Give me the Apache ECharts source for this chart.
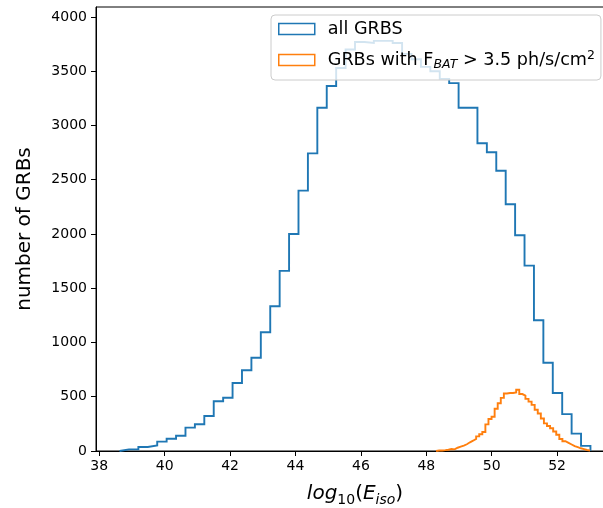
<!DOCTYPE html>
<html>
<head>
<meta charset="utf-8">
<script src="https://cdn.jsdelivr.net/npm/echarts@6/dist/echarts.min.js"></script>
<style>
html,body{margin:0;padding:0;background:#fff;}
#chart{width:603px;height:508px;}
</style>
</head>
<body>
<div id="chart"></div>
<script>
// ---- data ----
const xTicks = [38, 40, 42, 44, 46, 48, 50, 52];
const yTicks = [0, 500, 1000, 1500, 2000, 2500, 3000, 3500, 4000];

const seriesNames = ['all GRBS', 'GRBs with F_BAT > 3.5 ph/s/cm^2'];

// all GRBs: 50 bins between these edges
const allRange = [38.62, 53.02];
const allCounts = [15, 15, 37, 52, 86, 113, 141, 215, 246, 323,
                   458, 491, 627, 744, 860, 1094, 1334, 1660, 2000, 2400,
                   2743, 3164, 3364, 3530, 3700, 3770, 3760, 3780, 3780, 3760,
                   3660, 3610, 3540, 3500, 3430, 3390, 3164, 3164, 2836, 2753,
                   2583, 2274, 1988, 1708, 1205, 814, 535, 340, 160, 47];

// bright GRBs: 50 bins between these edges
const brightRange = [48.30, 53.01];
const brightCounts = [5, 5, 8, 12, 18, 15, 30, 40, 50, 62,
                      80, 95, 112, 135, 155, 175, 245, 295, 315, 390,
                      440, 490, 530, 535, 535, 540, 565, 525, 510, 480,
                      455, 425, 380, 345, 300, 255, 230, 210, 180, 150,
                      110, 90, 75, 60, 45, 35, 25, 18, 9, 5];

// ---- build step outlines (matplotlib histtype='step') ----
function stepOutline(counts, range) {
  const lo = range[0], hi = range[1];
  const w = (hi - lo) / counts.length;
  const pts = [[lo, 0]];
  counts.forEach((c, i) => {
    pts.push([lo + i * w, c]);
    pts.push([lo + (i + 1) * w, c]);
  });
  pts.push([hi, 0]);
  return pts;
}

const FONT = 'DejaVu Sans';
const BLUE = '#1f77b4';
const ORANGE = '#ff7f0e';

const chart = echarts.init(document.getElementById('chart'), null, {renderer: 'canvas'});

const option = {
  animation: false,
  backgroundColor: '#ffffff',
  grid: {
    left: 96, top: 7, right: -11, bottom: 57,
    containLabel: false,
    outerBoundsMode: 'none',
    show: true, borderColor: '#000', borderWidth: 1,
    backgroundColor: 'transparent'
  },
  legend: {
    orient: 'vertical',
    left: 271, top: 15,
    itemWidth: 36, itemHeight: 11, itemGap: 9,
    padding: [3, 6, 9, 7],
    backgroundColor: 'rgba(255,255,255,0.8)',
    borderColor: '#cccccc', borderWidth: 1, borderRadius: 4,
    selectedMode: false,
    data: [
      {name: seriesNames[0], icon: 'rect',
       itemStyle: {color: 'rgba(0,0,0,0)', borderColor: BLUE, borderWidth: 1.5}},
      {name: seriesNames[1], icon: 'rect',
       itemStyle: {color: 'rgba(0,0,0,0)', borderColor: ORANGE, borderWidth: 1.5}}
    ],
    formatter: function (name) {
      if (name === seriesNames[0]) return '{n|all GRBS}';
      return '{n|GRBs with F}{sub|BAT}{n| > 3.5 ph/s/cm}{sup|2}';
    },
    textStyle: {
      fontFamily: FONT, fontSize: 17.6, color: '#000', lineHeight: 22,
      padding: [0, 0, 0, 8],
      rich: {
        n: {fontFamily: FONT, fontSize: 17.6, color: '#000', lineHeight: 22},
        sub: {fontFamily: FONT, fontSize: 12.5, fontStyle: 'italic', color: '#000', lineHeight: 12, verticalAlign: 'bottom'},
        sup: {fontFamily: FONT, fontSize: 12.5, color: '#000', lineHeight: 10, verticalAlign: 'top'}
      }
    }
  },
  xAxis: {
    type: 'value',
    min: 37.9, max: 53.74,
    splitLine: {show: false},
    axisLine: {show: true, lineStyle: {color: '#000', width: 1}},
    axisTick: {show: true, length: 5, lineStyle: {color: '#000', width: 1}, customValues: xTicks},
    axisLabel: {
      customValues: xTicks, margin: 8,
      fontFamily: FONT, fontSize: 14, color: '#000',
      formatter: v => String(v)
    },
    name: '{it|log}{sub|10}{n|(}{it|E}{subit|iso}{n|)}',
    nameLocation: 'middle',
    nameGap: 30,
    nameTextStyle: {
      fontFamily: FONT, fontSize: 20, color: '#000', lineHeight: 26,
      rich: {
        it: {fontFamily: FONT, fontSize: 20, fontStyle: 'italic', color: '#000', lineHeight: 26},
        n: {fontFamily: FONT, fontSize: 20, color: '#000', lineHeight: 26},
        sub: {fontFamily: FONT, fontSize: 14, color: '#000', lineHeight: 14, verticalAlign: 'bottom'},
        subit: {fontFamily: FONT, fontSize: 14, fontStyle: 'italic', color: '#000', lineHeight: 14, verticalAlign: 'bottom'}
      }
    }
  },
  yAxis: {
    type: 'value',
    min: 0, max: 4092,
    splitLine: {show: false},
    axisLine: {show: true, lineStyle: {color: '#000', width: 1}},
    axisTick: {show: true, length: 5, lineStyle: {color: '#000', width: 1}, customValues: yTicks},
    axisLabel: {
      customValues: yTicks, margin: 9,
      fontFamily: FONT, fontSize: 14, color: '#000',
      formatter: v => String(v)
    },
    name: 'number of GRBs',
    nameLocation: 'middle',
    nameGap: 61,
    nameTextStyle: {fontFamily: FONT, fontSize: 20, color: '#000'}
  },
  series: [
    {
      name: seriesNames[0], type: 'line',
      data: stepOutline(allCounts, allRange),
      showSymbol: false, symbol: 'none',
      lineStyle: {color: BLUE, width: 1.9, join: 'miter'},
      itemStyle: {color: BLUE},
      z: 2
    },
    {
      name: seriesNames[1], type: 'line',
      data: stepOutline(brightCounts, brightRange),
      showSymbol: false, symbol: 'none',
      lineStyle: {color: ORANGE, width: 1.9, join: 'miter'},
      itemStyle: {color: ORANGE},
      z: 3
    }
  ]
};
chart.setOption(option);
</script>
</body>
</html>
